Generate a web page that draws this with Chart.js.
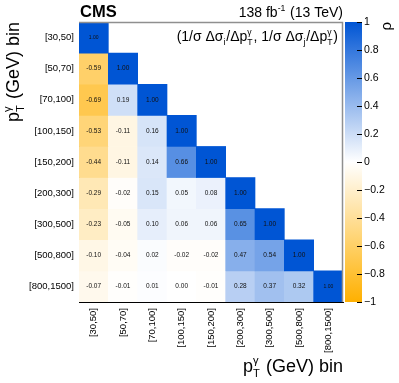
<!DOCTYPE html>
<html>
<head>
<meta charset="utf-8">
<script src="https://cdn.jsdelivr.net/npm/chart.js@4.4.1/dist/chart.umd.min.js"></script>
<style>
  html, body { margin: 0; padding: 0; background: #fff; }
  #wrap { position: relative; width: 399px; height: 383px; }
  #wrap canvas { position: absolute; left: 0; top: 0; }
</style>
</head>
<body>
<div id="wrap">
  <canvas id="matrixChart" width="399" height="383"></canvas>
  <canvas id="scaleChart" width="399" height="383"></canvas>
</div>
<script>
// bins of photon pT, same on both axes
const binLabels = ['[30,50]', '[50,70]', '[70,100]', '[100,150]', '[150,200]',
                   '[200,300]', '[300,500]', '[500,800]', '[800,1500]'];

// lower triangle of the correlation matrix, one row per bin
const corrRows = [
  [1.00],
  [-0.59, 1.00],
  [-0.69, 0.19, 1.00],
  [-0.53, -0.11, 0.16, 1.00],
  [-0.44, -0.11, 0.14, 0.66, 1.00],
  [-0.29, -0.02, 0.15, 0.05, 0.08, 1.00],
  [-0.23, -0.05, 0.10, 0.06, 0.06, 0.65, 1.00],
  [-0.10, -0.04, 0.02, -0.02, -0.02, 0.47, 0.54, 1.00],
  [-0.07, -0.01, 0.01, 0.00, -0.01, 0.28, 0.37, 0.32, 1.00]
];

const scaleTicks = [-1, -0.8, -0.6, -0.4, -0.2, 0, 0.2, 0.4, 0.6, 0.8, 1];

const FONT = '"Liberation Sans", Arial, Helvetica, sans-serif';
const W = 399, H = 383;
const plotBox = { left: 79, top: 22, right: 343, bottom: 302 };
const barRight = 362;

const blue = [0, 85, 212];
const orange = [255, 176, 0];

function corrColor(v) {
  const end = v >= 0 ? blue : orange;
  const t = Math.min(1, Math.abs(v));
  const c = end.map(e => Math.round(255 + (e - 255) * t));
  return 'rgb(' + c.join(',') + ')';
}

// text with superscripts / subscripts, parts are strings or {sup, sub}
function drawRich(ctx, parts, x, y, size, align, bold) {
  const font = s => (bold ? 'bold ' : '') + s + 'px ' + FONT;
  const small = size * 0.62;
  const widths = parts.map(p => {
    if (typeof p === 'string') {
      ctx.font = font(size);
      return ctx.measureText(p).width;
    }
    ctx.font = font(small);
    return Math.max(p.sup ? ctx.measureText(p.sup).width : 0,
                    p.sub ? ctx.measureText(p.sub).width : 0) + size * 0.06;
  });
  const total = widths.reduce((a, b) => a + b, 0);
  let cx = align === 'right' ? x - total : x;
  ctx.textAlign = 'left';
  ctx.textBaseline = 'alphabetic';
  parts.forEach((p, i) => {
    if (typeof p === 'string') {
      ctx.font = font(size);
      ctx.fillText(p, cx, y);
    } else {
      ctx.font = font(small);
      if (p.sup) ctx.fillText(p.sup, cx, y - size * 0.42);
      if (p.sub) ctx.fillText(p.sub, cx, y + size * 0.3);
    }
    cx += widths[i];
  });
}

const ptTitle = ['p', { sup: 'γ', sub: 'T' }, ' (GeV) bin'];

const cellText = {
  id: 'cellText',
  afterDatasetsDraw(chart) {
    const ctx = chart.ctx;
    ctx.save();
    ctx.textAlign = 'center';
    ctx.textBaseline = 'middle';
    ctx.fillStyle = '#111';
    corrRows.forEach((row, r) => {
      const meta = chart.getDatasetMeta(r);
      row.forEach((v, c) => {
        const bar = meta.data[c];
        const small = r === c && (r === 0 || r === binLabels.length - 1);
        ctx.font = (small ? 5 : 6.5) + 'px ' + FONT;
        ctx.fillText(v.toFixed(2), bar.x, (bar.y + bar.base) / 2);
      });
    });
    ctx.restore();
  }
};

const decorations = {
  id: 'decorations',
  afterDraw(chart) {
    const ctx = chart.ctx;
    const a = chart.chartArea;
    ctx.save();
    // grey frame on top and right
    ctx.strokeStyle = '#8f8f8f';
    ctx.lineWidth = 1.5;
    ctx.beginPath();
    ctx.moveTo(a.left, a.top + 0.5);
    ctx.lineTo(a.right - 0.5, a.top + 0.5);
    ctx.lineTo(a.right - 0.5, a.bottom);
    ctx.stroke();

    ctx.fillStyle = '#000';
    drawRich(ctx, ['CMS'], a.left + 1, 17, 16.5, 'left', true);
    drawRich(ctx, ['138 fb', { sup: '-1' }, ' (13 TeV)'], a.right, 17, 14, 'right');
    drawRich(ctx, ['(1/σ Δσ', { sub: 'i' }, '/Δp', { sup: 'γ', sub: 'T' },
                   ', 1/σ Δσ', { sub: 'j' }, '/Δp', { sup: 'γ', sub: 'T' }, ')'],
             a.right - 5, 41, 14, 'right');

    // x title
    drawRich(ctx, ptTitle, a.right, 372, 18, 'right');
    // y title
    ctx.save();
    ctx.translate(19, a.top);
    ctx.rotate(-Math.PI / 2);
    drawRich(ctx, ptTitle, 0, 0, 18, 'right');
    ctx.restore();

    ctx.restore();
  }
};

const matrixDatasets = corrRows.map((row, r) => ({
  data: binLabels.map((_, c) => c < row.length ? [r - 0.5, r + 0.5] : null),
  backgroundColor: binLabels.map((_, c) => c < row.length ? corrColor(row[c]) : 'rgba(0,0,0,0)'),
  borderWidth: 0,
  grouped: false,
  categoryPercentage: 1,
  barPercentage: 1
}));

new Chart(document.getElementById('matrixChart'), {
  type: 'bar',
  data: { labels: binLabels, datasets: matrixDatasets },
  options: {
    responsive: false,
    animation: false,
    layout: { padding: { left: 0, top: plotBox.top, right: W - plotBox.right, bottom: 0 } },
    plugins: { legend: { display: false }, tooltip: { enabled: false } },
    scales: {
      x: {
        type: 'category',
        grid: { display: false, drawTicks: false },
        border: { display: true, color: '#000', width: 1 },
        ticks: {
          autoSkip: false, minRotation: 90, maxRotation: 90, padding: 6,
          color: '#000', font: { family: FONT, size: 9.5 }
        },
        afterFit: s => { s.height = H - plotBox.bottom; }
      },
      y: {
        type: 'linear',
        min: -0.5,
        max: binLabels.length - 0.5,
        reverse: true,
        grid: { display: false, drawTicks: false },
        border: { display: true, color: '#000', width: 1 },
        afterBuildTicks: s => { s.ticks = binLabels.map((_, i) => ({ value: i })); },
        ticks: {
          padding: 5, color: '#000', font: { family: FONT, size: 9.5 },
          callback: v => binLabels[v]
        },
        afterFit: s => { s.width = plotBox.left; }
      }
    }
  },
  plugins: [cellText, decorations]
});

// colour scale
const scaleDecor = {
  id: 'scaleDecor',
  afterDraw(chart) {
    const ctx = chart.ctx;
    const a = chart.chartArea;
    const y = chart.scales.y;
    ctx.save();
    ctx.strokeStyle = '#000';
    ctx.lineWidth = 1;
    scaleTicks.forEach(v => {
      const py = Math.round(y.getPixelForValue(v)) + 0.5;
      ctx.beginPath();
      ctx.moveTo(a.right - 5, py);
      ctx.lineTo(a.right, py);
      ctx.stroke();
    });
    ctx.fillStyle = '#000';
    ctx.translate(391, a.top);
    ctx.rotate(-Math.PI / 2);
    drawRich(ctx, ['ρ'], 0, 0, 15, 'right');
    ctx.restore();
  }
};

new Chart(document.getElementById('scaleChart'), {
  type: 'bar',
  data: {
    labels: ['ρ'],
    datasets: [{
      data: [[-1, 1]],
      backgroundColor: ctx => {
        const area = ctx.chart.chartArea;
        if (!area) return corrColor(0);
        const g = ctx.chart.ctx.createLinearGradient(0, area.bottom, 0, area.top);
        scaleTicks.forEach(v => g.addColorStop((v + 1) / 2, corrColor(v)));
        return g;
      },
      borderWidth: 0,
      categoryPercentage: 1,
      barPercentage: 1
    }]
  },
  options: {
    responsive: false,
    animation: false,
    layout: { padding: { left: plotBox.right + 2, top: plotBox.top, right: 0, bottom: H - plotBox.bottom } },
    plugins: { legend: { display: false }, tooltip: { enabled: false } },
    scales: {
      x: { display: false },
      y: {
        position: 'right',
        min: -1,
        max: 1,
        grid: { display: false, drawTicks: false },
        border: { display: false },
        afterBuildTicks: s => { s.ticks = scaleTicks.map(v => ({ value: v })); },
        ticks: {
          padding: 2, color: '#000', font: { family: FONT, size: 10.5 },
          callback: v => String(Math.round(v * 10) / 10).replace('-', '−')
        },
        afterFit: s => { s.width = W - barRight; }
      }
    }
  },
  plugins: [scaleDecor]
});
</script>
</body>
</html>
